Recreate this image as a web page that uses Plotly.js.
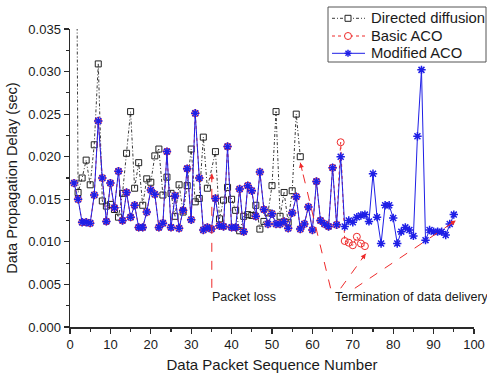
<!DOCTYPE html>
<html>
<head>
<meta charset="utf-8">
<script src="https://cdn.plot.ly/plotly-3.0.1.min.js"></script>
<style>html,body{margin:0;padding:0;background:#fff}#chart{width:487px;height:374px}</style>
</head>
<body>
<div id="chart"></div>
<script>
// Directed diffusion (packet 35 lost, delivery terminated after 57; packet 1 off-scale)
var ddX = [1,2,3,4,5,6,7,8,9,10,11,12,13,14,15,16,17,18,19,20,21,22,23,24,25,26,27,28,29,30,31,32,33,34,36,37,38,39,40,41,42,43,44,45,46,47,48,49,50,51,52,53,54,55,56,57];
var ddY = [0.1,0.0158,0.0175,0.0196,0.0167,0.0214,0.0309,0.0148,0.0142,0.0144,0.0138,0.0129,0.0157,0.0204,0.0253,0.0163,0.0193,0.0143,0.0174,0.0170,0.0201,0.0209,0.0155,0.0176,0.0157,0.0130,0.0167,0.0135,0.0166,0.0209,0.0147,0.0151,0.0223,0.0163,0.0206,0.0127,0.0149,0.0164,0.0150,0.0137,0.0113,0.0130,0.0132,0.0131,0.0143,0.0115,0.0124,0.0134,0.0166,0.0253,0.0130,0.0158,0.0123,0.0160,0.0250,0.0200];

// Modified ACO, packets 1..95
var modY = [0.0169,0.0150,0.0123,0.0123,0.0122,0.0155,0.0242,0.0175,0.0124,0.0169,
            0.0140,0.0183,0.0125,0.0158,0.0129,0.0143,0.0117,0.0117,0.0135,0.0161,
            0.0156,0.0117,0.0122,0.0206,0.0117,0.0154,0.0116,0.0137,0.0186,0.0126,
            0.0251,0.0175,0.0114,0.0117,0.0115,0.0151,0.0119,0.0118,0.0212,0.0117,
            0.0117,0.0162,0.0112,0.0166,0.0160,0.0130,0.0182,0.0138,0.0121,0.0133,
            0.0121,0.0121,0.0124,0.0116,0.0134,0.0153,0.0115,0.0121,0.0141,0.0114,
            0.0171,0.0125,0.0121,0.0118,0.0187,0.0120,0.0200,0.0118,0.0125,0.0123,
            0.0129,0.0131,0.0132,0.0124,0.0180,0.0129,0.0098,0.0143,0.0143,0.0128,
            0.0098,0.0112,0.0117,0.0114,0.0107,0.0224,0.0302,0.0102,0.0114,0.0112,
            0.0112,0.0112,0.0108,0.0121,0.0132];
var modX = modY.map(function(_, i){ return i + 1; });

// Basic ACO: identical to Modified ACO up to packet 66, then diverges, ends at 73
var basicTail = [0.0217,0.0101,0.0099,0.0096,0.0106,0.0098,0.0095];
var basicY = modY.slice(0, 66).concat(basicTail);
var basicX = basicY.map(function(_, i){ return i + 1; });

var seriesNames = ['Directed diffusion', 'Basic ACO', 'Modified ACO'];
var xTicks = [0,10,20,30,40,50,60,70,80,90,100];

var FONT = 'Arial, "Liberation Sans", sans-serif';
var AX = '#2a2a2a';
var RED = '#ee2a2a';
var BLUE = '#1f1fe6';
var DDC = '#3a3a3a';
var DDDASH = '3px,2px,1px,2px';

var W = 487, H = 374, ML = 70, MR = 13, MT = 29, MB = 47;
var PW = W - ML - MR, PH = H - MT - MB;
function px2x(px){ return (px - ML) / PW; }
function px2y(py){ return (H - MB - py) / PH; }

var traces = [
  {x: ddX, y: ddY, name: seriesNames[0], type: 'scatter', mode: 'lines+markers',
   line: {color: DDC, width: 1, dash: DDDASH},
   marker: {symbol: 'square-open', size: 6, color: '#222222', line: {width: 1}}},
  {x: basicX, y: basicY, name: seriesNames[1], type: 'scatter', mode: 'lines+markers',
   line: {color: RED, width: 1, dash: 'dot'},
   marker: {symbol: 'circle-open', size: 7, color: RED, line: {width: 1}}},
  {x: modX, y: modY, name: seriesNames[2], type: 'scatter', mode: 'lines+markers',
   line: {color: BLUE, width: 1},
   marker: {symbol: 'asterisk-open', size: 7, color: BLUE, line: {width: 1.5, color: BLUE}}}
];

// annotation arrows (data units): tails and tips
var arrows = [
  {x0: 35.1, y0: 0.0046, x1: 35.1, y1: 0.0180, ax: 0, ay: 10},
  {x0: 64.5, y0: 0.00455, x1: 57.0, y1: 0.0193, ax: 2.3, ay: 9.7},
  {x0: 67.0, y0: 0.00455, x1: 73.2, y1: 0.0086, ax: -5.9, ay: 8.1},
  {x0: 70.5, y0: 0.00455, x1: 95.5, y1: 0.0125, ax: -8.3, ay: 5.5}
];
var shapes = arrows.map(function(a){
  return {type: 'line', xref: 'x', yref: 'y', x0: a.x0, y0: a.y0, x1: a.x1, y1: a.y1,
          line: {color: RED, width: 1, dash: 'dash'}};
});
var annotations = arrows.map(function(a){
  return {x: a.x1, y: a.y1, xref: 'x', yref: 'y', ax: a.ax, ay: a.ay, text: '',
          showarrow: true, arrowhead: 2, arrowsize: 1, arrowwidth: 1, arrowcolor: RED};
});
annotations.push({x: 34.6, y: 0.0035, xref: 'x', yref: 'y', text: 'Packet loss', showarrow: false,
  xanchor: 'left', yanchor: 'middle', font: {family: FONT, size: 12.5, color: '#1a1a1a'}});
annotations.push({x: 65.1, y: 0.0035, xref: 'x', yref: 'y', text: 'Termination of data delivery', showarrow: false,
  xanchor: 'left', yanchor: 'middle', font: {family: FONT, size: 12.5, color: '#1a1a1a'}});

// legend box (drawn by hand to match the compact original legend)
shapes.push({type: 'rect', xref: 'paper', yref: 'paper', x0: px2x(328), x1: px2x(486), y0: px2y(62), y1: px2y(7),
             line: {color: '#555', width: 1}, fillcolor: '#fff', layer: 'above'});
var rowY = [18.3, 36, 53.3];
var legLine = [{color: DDC, dash: DDDASH}, {color: RED, dash: 'dot'}, {color: BLUE, dash: 'solid'}];
rowY.forEach(function(py, i){
  var yp = px2y(py), xm = px2x(348);
  shapes.push({type: 'line', xref: 'paper', yref: 'paper', x0: px2x(332), x1: px2x(365), y0: yp, y1: yp,
               line: {color: legLine[i].color, width: 1, dash: legLine[i].dash}});
  var base = {xref: 'paper', yref: 'paper', xsizemode: 'pixel', ysizemode: 'pixel', xanchor: xm, yanchor: yp};
  if (i === 0) {
    shapes.push(Object.assign({type: 'rect', x0: -3, x1: 3, y0: -3, y1: 3, fillcolor: '#fff', line: {color: '#222', width: 1}}, base));
  } else if (i === 1) {
    shapes.push(Object.assign({type: 'circle', x0: -3.5, x1: 3.5, y0: -3.5, y1: 3.5, fillcolor: '#fff', line: {color: RED, width: 1}}, base));
  } else {
    [[-3.5,0,3.5,0],[0,-3.5,0,3.5],[-2.5,-2.5,2.5,2.5],[-2.5,2.5,2.5,-2.5]].forEach(function(s){
      shapes.push(Object.assign({type: 'line', x0: s[0], y0: s[1], x1: s[2], y1: s[3], line: {color: BLUE, width: 1.5}}, base));
    });
  }
  annotations.push({x: px2x(369), y: yp, xref: 'paper', yref: 'paper', text: seriesNames[i], showarrow: false,
    xanchor: 'left', yanchor: 'middle', font: {family: FONT, size: 14.8, color: '#1a1a1a'}});
});

var layout = {
  width: W, height: H,
  margin: {l: ML, r: MR, t: MT, b: MB},
  paper_bgcolor: '#fff', plot_bgcolor: '#fff',
  font: {family: FONT, color: '#1a1a1a'},
  showlegend: false,
  xaxis: {range: [0, 100], tickvals: xTicks, ticktext: xTicks.map(String),
          showgrid: false, zeroline: false, showline: true, linecolor: AX, linewidth: 1.5,
          ticks: 'outside', ticklen: 5, tickwidth: 1.2, tickcolor: AX,
          minor: {dtick: 5, ticks: 'outside', ticklen: 3, tickwidth: 1.2, tickcolor: AX, showgrid: false},
          tickfont: {family: FONT, size: 13, color: '#1a1a1a'},
          title: {text: 'Data Packet Sequence Number', font: {family: FONT, size: 15, color: '#1a1a1a'}, standoff: 8}},
  yaxis: {range: [0, 0.035], dtick: 0.005, tick0: 0, tickformat: '.3f',
          showgrid: false, zeroline: false, showline: true, linecolor: AX, linewidth: 1.5,
          ticks: 'outside', ticklen: 5, tickwidth: 1.2, tickcolor: AX,
          minor: {dtick: 0.0025, ticks: 'outside', ticklen: 3, tickwidth: 1.2, tickcolor: AX, showgrid: false},
          tickfont: {family: FONT, size: 13, color: '#1a1a1a'},
          title: {text: 'Data Propagation Delay (sec)', font: {family: FONT, size: 14.6, color: '#1a1a1a'}, standoff: 7}},
  shapes: shapes,
  annotations: annotations
};

Plotly.newPlot('chart', traces, layout, {displayModeBar: false, staticPlot: true});
</script>
</body>
</html>
